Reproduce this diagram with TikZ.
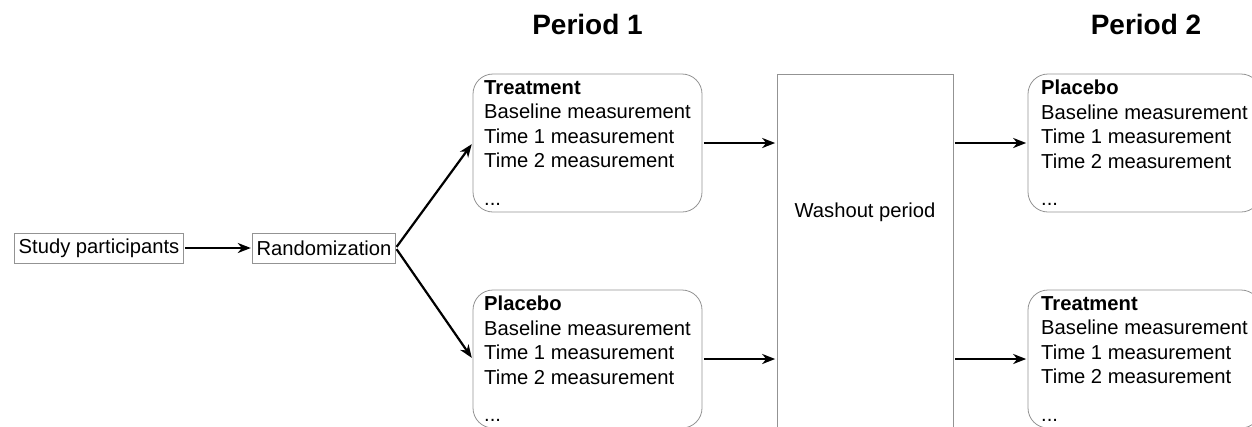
\documentclass[tikz,border=0pt]{standalone}
\usepackage{fontspec}
\setmainfont{Liberation Sans}
\usetikzlibrary{arrows.meta}
\usetikzlibrary{positioning}
\colorlet{colorBox}{gray!85}
\colorlet{colorFlow}{black}
\newcommand{\boxfont}{\fontsize{20.2}{24.5}\selectfont}
\newcommand{\headfont}{\fontsize{28}{32}\selectfont\bfseries}
\tikzset{
   every path/.style={>={Stealth[length=13pt,width=10pt,inset=4pt]}},
   flow/.style={->,color=colorFlow,line width=2.2pt,shorten >=0.5mm,shorten <=0.5mm},
   stepbox/.style={rectangle,draw=colorBox,line width=0.8pt,font=\boxfont,
     inner xsep=4pt,inner ysep=0pt,minimum height=30pt},
   armbox/.style={rectangle,draw=colorBox,line width=0.8pt,rounded corners=20pt,
     font=\boxfont,align=left,minimum width=229pt,minimum height=138pt},
   washbox/.style={rectangle,draw=colorBox,line width=0.8pt,font=\boxfont,
     minimum width=176pt,inner ysep=3pt,text height=140pt,text depth=220pt},
}

\begin{document}
\begin{tikzpicture}[x=1pt,y=-1pt]

  \useasboundingbox (0,0) rectangle (1252,426);

  \node (head1) at (587.5, 24.5)  {\headfont Period 1};
  \node (head2) at (1146, 24.5)   {\headfont Period 2};

  \node[stepbox] (parts) at (99, 248)  {Study participants};
  \node[stepbox] (rand)  at (324, 248) {Randomization};

  \node[armbox] (t1) at (587.5, 143) {\textbf{Treatment}\\Baseline measurement\\Time 1 measurement\\Time 2 measurement\\[13pt]...};
  \node[armbox] (p1) at (587.5, 359) {\textbf{Placebo}\\Baseline measurement\\Time 1 measurement\\Time 2 measurement\\[13pt]...};

  \node[washbox, anchor=north] (wash) at (865, 74) {Washout period};

  \node[armbox, minimum width=233pt] (p2) at (1144.5, 143) {\textbf{Placebo}\\Baseline measurement\\Time 1 measurement\\Time 2 measurement\\[13pt]...};
  \node[armbox, minimum width=233pt] (t2) at (1144.5, 359) {\textbf{Treatment}\\Baseline measurement\\Time 1 measurement\\Time 2 measurement\\[13pt]...};

  \draw[flow] (parts) -- (rand);
  \draw[flow] (rand.east) -- (t1.west);
  \draw[flow] (rand.east) -- (p1.west);

  \draw[flow] (t1.east) -- (t1.east -| wash.west);
  \draw[flow] (p1.east) -- (p1.east -| wash.west);

  \draw[flow] (wash.east |- p2.west) -- (p2.west);
  \draw[flow] (wash.east |- t2.west) -- (t2.west);

\end{tikzpicture}
\end{document}
